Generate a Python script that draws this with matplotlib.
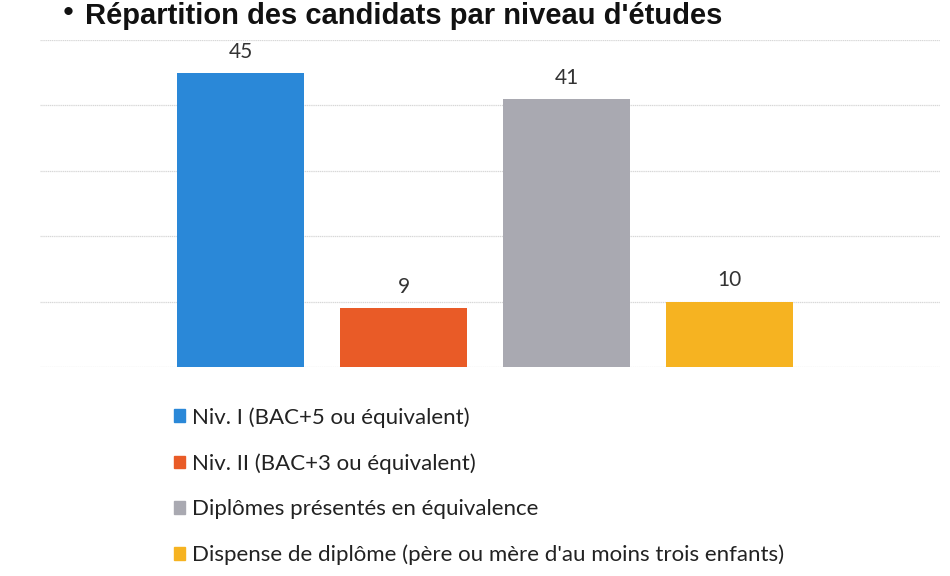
import numpy as np
import matplotlib.pyplot as plt
from matplotlib.patches import Patch

plt.rcParams['font.family'] = ['Lato', 'DejaVu Sans']

categories = ['Niv. I (BAC+5 ou équivalent)',
              'Niv. II (BAC+3 ou équivalent)',
              'Diplômes présentés en équivalence',
              "Dispense de diplôme (père ou mère d'au moins trois enfants)"]
values = [45, 9, 41, 10]
colors = ['#2a88d8', '#e95b27', '#a9a9b1', '#f6b321']
title = "Répartition des candidats par niveau d'études"

fig = plt.figure(figsize=(9.5, 5.76), dpi=100)
ax = fig.add_axes([40/950, 1-367/576, 900/950, 327/576])

x = np.arange(len(values))
bars = ax.bar(x, values, width=0.78, color=colors, zorder=2)
ax.bar_label(bars, padding=8, fontsize=15, color='#333333')

ax.set_ylim(0, 50)
ax.set_xlim(-1.23, 4.29)
ax.set_yticks(np.arange(0, 51, 10))
ax.yaxis.grid(True, color='#d8d8d8', linewidth=0.9, linestyle=(0, (1, 0.5)))
ax.set_axisbelow(True)
ax.tick_params(left=False, bottom=False, labelleft=False, labelbottom=False)
for s in ax.spines.values():
    s.set_visible(False)

# title at the very top of the page
fig.text(85/950, 1-2/576, title, fontsize=21, fontweight='bold',
         family=['Liberation Sans'], va='top', ha='left', color='#111111')
fig.text(62/950, 1-2/576, '•', fontsize=16, va='top', color='#111111')

handles = [Patch(color=c) for c in colors]
fig.legend(handles, categories, loc='upper left', bbox_to_anchor=(154/950, 1-387/576),
           frameon=False, fontsize=16, handlelength=0.5, handleheight=0.5,
           handletextpad=0.3, labelspacing=1.15, labelcolor='#222222')

fig.savefig('out.png', dpi=100)
